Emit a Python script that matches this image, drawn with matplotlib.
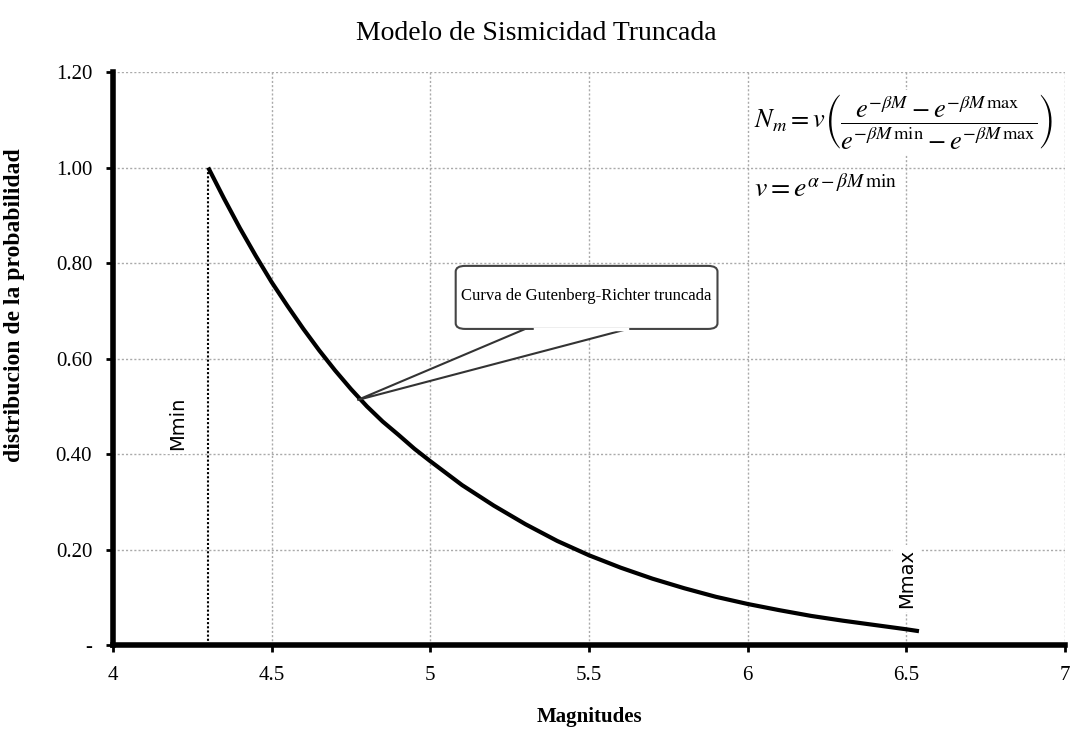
import matplotlib
matplotlib.use("Agg")
import matplotlib.pyplot as plt
from matplotlib.patches import FancyBboxPatch, Polygon

# curve
magnitudes = [4.30, 4.35, 4.40, 4.45, 4.50, 4.55, 4.60, 4.65, 4.70, 4.75, 4.80, 4.85,
              4.90, 4.95, 5.00, 5.10, 5.20, 5.30, 5.40, 5.50, 5.60, 5.70, 5.80, 5.90,
              6.00, 6.10, 6.20, 6.30, 6.40, 6.50, 6.54]
probability = [1.000, 0.935, 0.873, 0.815, 0.760, 0.710, 0.662, 0.617, 0.575, 0.536, 0.500, 0.468,
               0.440, 0.411, 0.385, 0.335, 0.292, 0.253, 0.218, 0.188, 0.162, 0.139, 0.119, 0.101,
               0.086, 0.073, 0.061, 0.051, 0.042, 0.033, 0.029]
m_min = 4.3
x_ticks = [4, 4.5, 5, 5.5, 6, 6.5, 7]
x_tick_labels = ["4", "4.5", "5", "5.5", "6", "6.5", "7"]
y_ticks = [0, 0.2, 0.4, 0.6, 0.8, 1.0, 1.2]
y_tick_labels = ["-", "0.20", "0.40", "0.60", "0.80", "1.00", "1.20"]

serif = "Liberation Serif"
plt.rcParams["mathtext.fontset"] = "stix"

fig = plt.figure(figsize=(10.73, 7.35), dpi=100)
ax = fig.add_axes([0.1053, 0.1224, 0.8872, 0.7796])

ax.plot(magnitudes, probability, color="black", linewidth=3, solid_capstyle="butt", zorder=4)
ax.plot([m_min, m_min], [0, probability[0]], color="black", linestyle=(0, (1, 1)),
        linewidth=1.5, zorder=3)

ax.set_xlim(4, 7)
ax.set_ylim(0, 1.2)
ax.set_xticks(x_ticks)
ax.set_xticklabels(x_tick_labels, family=serif, fontsize=15)
ax.set_yticks(y_ticks)
ax.set_yticklabels(y_tick_labels, family=serif, fontsize=15)
ax.tick_params(length=5, width=2, direction="out", pad=10)
ax.grid(True, color="#aaaaaa", linestyle=(0, (1.5, 1.5)), linewidth=1)
for side in ["top", "right"]:
    ax.spines[side].set_visible(False)
for side in ["left", "bottom"]:
    ax.spines[side].set_linewidth(4)

ax.set_xlabel("Magnitudes", family=serif, fontsize=15, fontweight="bold", labelpad=16)
ax.set_ylabel("distribucion de la probabilidad", family=serif, fontsize=17,
              fontweight="bold")
ax.yaxis.set_label_coords(-0.092, 0.593)
fig.text(0.5, 0.955, "Modelo de Sismicidad Truncada", family=serif, fontsize=20,
         ha="center", va="center")

# vertical labels
ax.text(4.205, 0.465, "Mmin", rotation=90, ha="center", va="center", fontsize=14,
        family="DejaVu Sans", bbox=dict(facecolor="white", edgecolor="none", pad=3), zorder=5)
ax.text(6.5, 0.14, "Mmax", rotation=90, ha="center", va="center", fontsize=14,
        family="DejaVu Sans", bbox=dict(facecolor="white", edgecolor="none", pad=3), zorder=5)

# callout
wedge = Polygon([(5.31, 0.665), (4.77, 0.513), (5.64, 0.665)], closed=True,
                facecolor="white", edgecolor="#333333", linewidth=1.5, zorder=5)
ax.add_patch(wedge)
box = FancyBboxPatch((5.08, 0.662), 0.825, 0.132,
                     boxstyle="round,pad=0,rounding_size=0.03",
                     facecolor="white", edgecolor="#444444", linewidth=1.5,
                     mutation_aspect=0.4, zorder=6)
ax.add_patch(box)
ax.plot([5.33, 5.62], [0.662, 0.662], color="white", linewidth=2.5, zorder=7)
ax.text(5.49, 0.73, "Curva de Gutenberg-Richter truncada", ha="center", va="center",
        family=serif, fontsize=12, zorder=8)

# formula
ax.text(6.02, 1.095,
        r"$N_m = v\left(\dfrac{e^{-\beta M} - e^{-\beta M\,\mathrm{max}}}"
        r"{e^{-\beta M\,\mathrm{min}} - e^{-\beta M\,\mathrm{max}}}\right)$",
        ha="left", va="center", fontsize=19, zorder=8,
        bbox=dict(facecolor="white", edgecolor="none", pad=2))
ax.text(6.02, 0.955, r"$v = e^{\alpha - \beta M\,\mathrm{min}}$",
        ha="left", va="center", fontsize=20, zorder=8,
        bbox=dict(facecolor="white", edgecolor="none", pad=2))

fig.savefig("out.png", dpi=100)
